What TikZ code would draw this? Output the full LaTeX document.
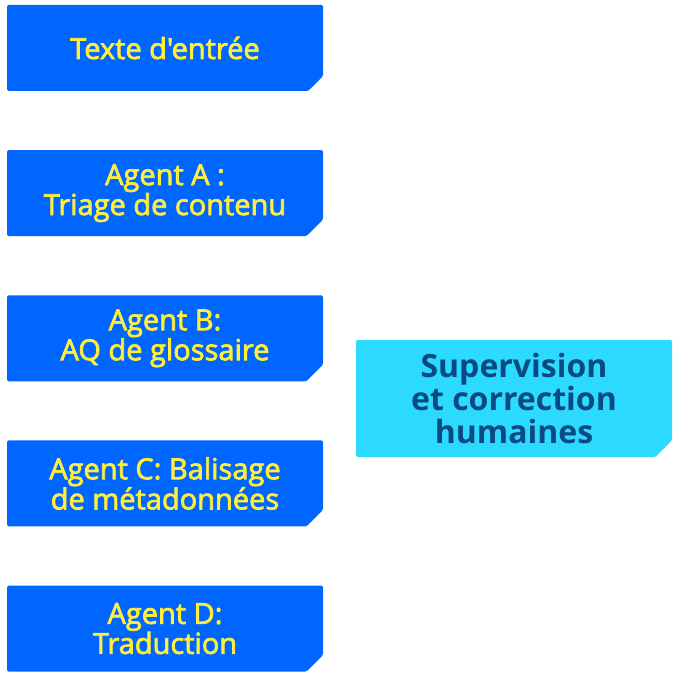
\documentclass[tikz,border=0pt]{standalone}
\usepackage{fontspec}
\setmainfont{Open Sans}
\newfontfamily\agentfont[FakeBold=2.5]{Open Sans}
\usetikzlibrary{shapes.misc, positioning}
\definecolor{agentblue}{RGB}{0,102,255}
\definecolor{agentyellow}{RGB}{255,238,60}
\definecolor{humancyan}{RGB}{44,217,255}
\definecolor{humantext}{RGB}{10,74,130}

\begin{document}
\begin{tikzpicture}[x=1pt, y=1pt, node distance=58.75pt]
    \tikzstyle{cutbox}=[chamfered rectangle, chamfered rectangle corners=south east,
        chamfered rectangle xsep=13pt, rounded corners=1.5pt, inner sep=0pt,
        minimum width=316pt, align=center]
    \tikzstyle{agent}=[cutbox, fill=agentblue, text=agentyellow, minimum height=86pt,
        font=\agentfont\fontsize{29}{28.5}\selectfont]
    \tikzstyle{human}=[cutbox, fill=humancyan, text=humantext, minimum height=117pt,
        font=\bfseries\fontsize{32}{33}\selectfont]

    \useasboundingbox (0,0) rectangle (679,-676);

    % Pipeline of agents
    \node[agent] (input) at (165,-48) {Texte d'entrée};
    \node[agent, below=of input] (agentA) {Agent A :\\Triage de contenu};
    \node[agent, below=of agentA] (agentB) {Agent B:\\AQ de glossaire};
    \node[agent, below=of agentB] (agentC) {Agent C: Balisage\\de métadonnées};
    \node[agent, below=of agentC] (agentD) {Agent D:\\Traduction};

    % Human review
    \node[human] (human) at (514,-398.5) {Supervision\\et correction\\humaines};
\end{tikzpicture}
\end{document}
